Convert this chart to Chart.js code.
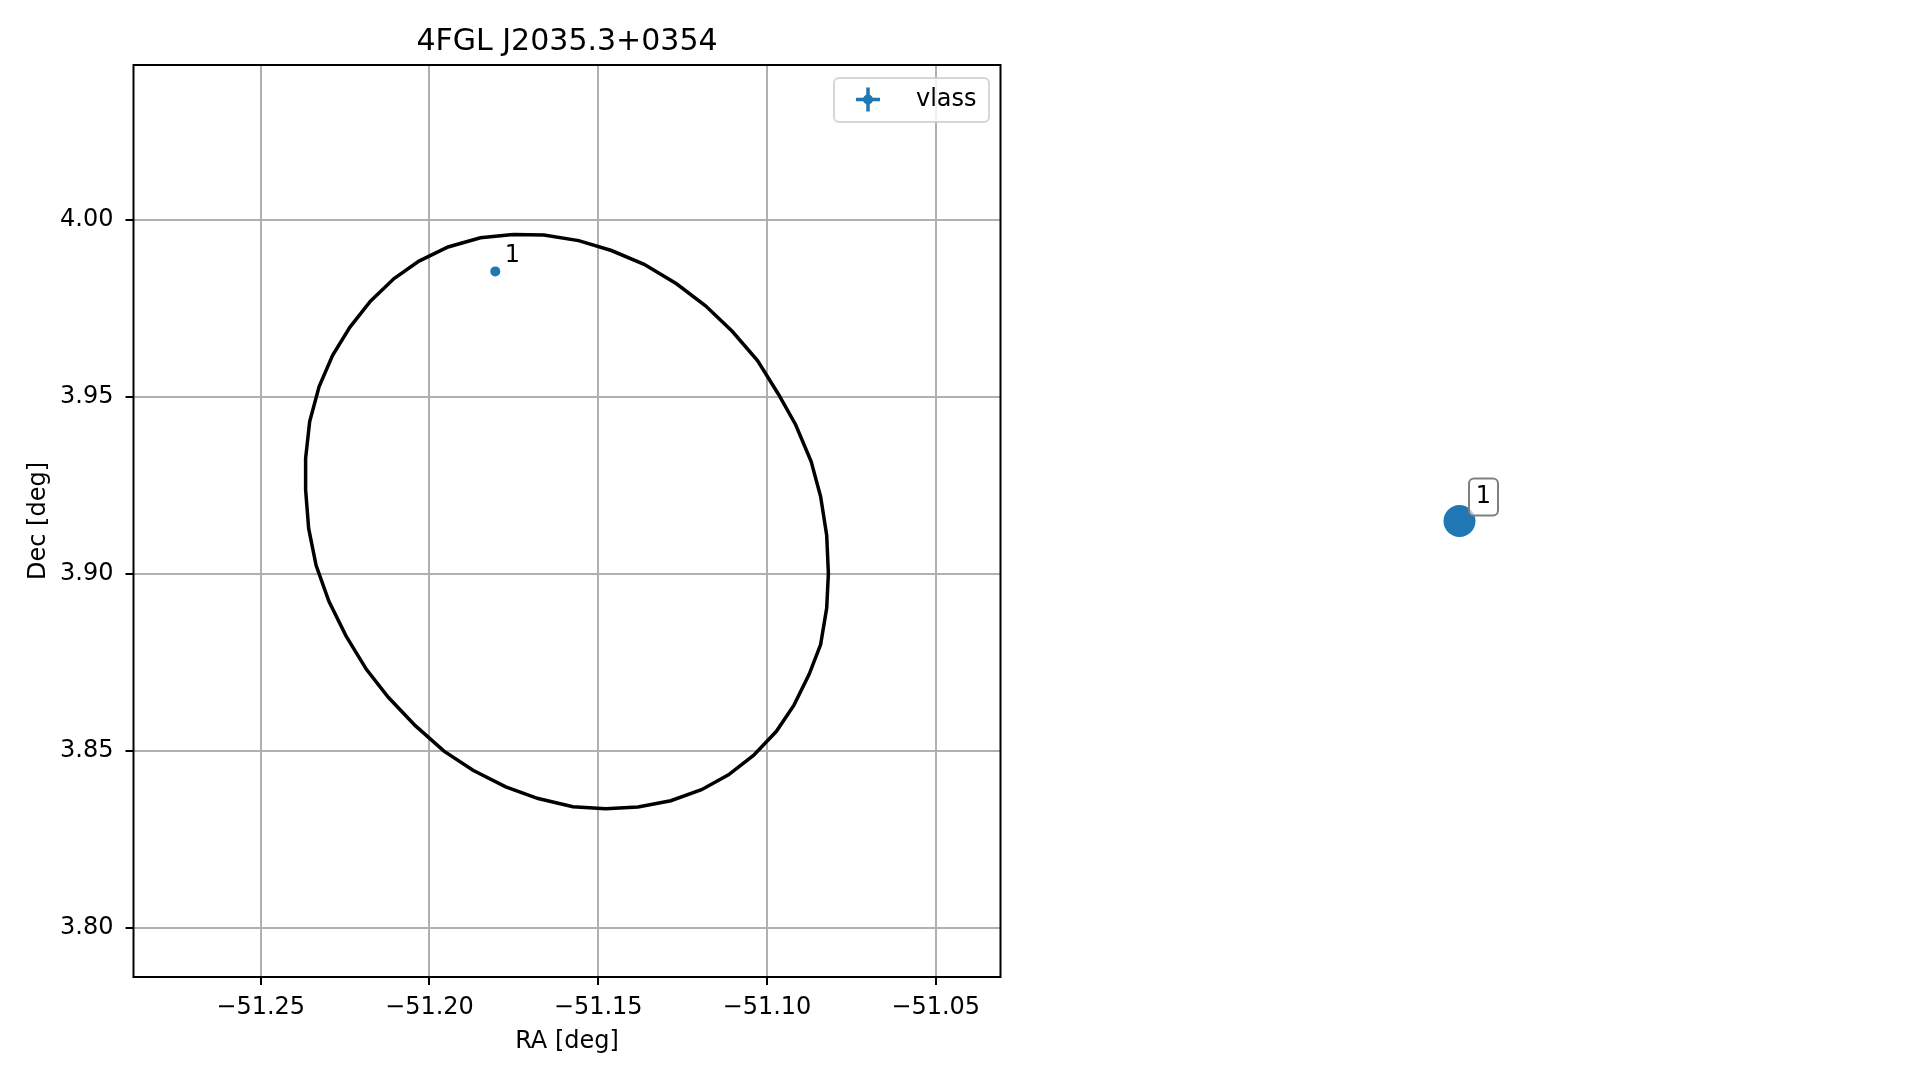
<!DOCTYPE html>
<html><head><meta charset="utf-8">
<script src="https://cdn.jsdelivr.net/npm/chart.js@4.4.1/dist/chart.umd.min.js"></script>
<style>
html,body{margin:0;padding:0;background:#fff;width:1919px;height:1080px;overflow:hidden}
#c1{position:absolute;left:0;top:0}
#c2{position:absolute;left:1020px;top:0}
</style></head><body>
<canvas id="c1" width="1020" height="1080"></canvas>
<canvas id="c2" width="899" height="1080"></canvas>
<script>
// ---- data ----
const chartTitle = '4FGL J2035.3+0354';
const xAxisLabel = 'RA [deg]';
const yAxisLabel = 'Dec [deg]';
const xTickValues = [-51.25, -51.20, -51.15, -51.10, -51.05];
const yTickValues = [3.80, 3.85, 3.90, 3.95, 4.00];
const xRange = [-51.2877, -51.0308];
const yRange = [3.7862, 4.0438];
const ellipseRA = [-51.1752,-51.1661,-51.1558,-51.1461,-51.1364,-51.1268,-51.1182,-51.1103,-51.1028,-51.0966,
  -51.0915,-51.0869,-51.0841,-51.0823,-51.0818,-51.0823,-51.0841,-51.0875,-51.0920,-51.0972,
  -51.1040,-51.1114,-51.1194,-51.1285,-51.1382,-51.1478,-51.1575,-51.1678,-51.1774,-51.1871,
  -51.1957,-51.2042,-51.2122,-51.2187,-51.2247,-51.2298,-51.2336,-51.2358,-51.2367,-51.2367,
  -51.2355,-51.2327,-51.2287,-51.2236,-51.2175,-51.2105,-51.2031,-51.1945,-51.1849,-51.1752];
const ellipseDec = [3.9959,3.9958,3.9942,3.9914,3.9875,3.9820,3.9758,3.9686,3.9603,3.9508,
  3.9422,3.9318,3.9219,3.9110,3.9002,3.8904,3.8801,3.8717,3.8630,3.8556,
  3.8488,3.8433,3.8391,3.8360,3.8342,3.8337,3.8343,3.8366,3.8399,3.8446,
  3.8500,3.8572,3.8652,3.8731,3.8825,3.8923,3.9025,3.9129,3.9238,3.9327,
  3.9431,3.9530,3.9618,3.9697,3.9771,3.9835,3.9884,3.9924,3.9950,3.9959];
const seriesName = 'vlass';
const sourceLabels = ['1'];
const sourceRA = [-51.1805];
const sourceDec = [3.9855];
const panelX = [0];
const panelY = [0];
const panelLabels = ['1'];

// ---- styles ----
const FONT = "'DejaVu Sans', sans-serif";
const BLUE = '#1f77b4';

const fmt = v => (v < 0 ? '\u2212' : '') + Math.abs(v).toFixed(2);

const decorPlugin = {
  id: 'decor',
  afterDatasetsDraw(chart) {
    const ctx = chart.ctx;
    const meta = chart.getDatasetMeta(1);
    ctx.save();
    ctx.fillStyle = '#000';
    ctx.font = '24px ' + FONT;
    ctx.textAlign = 'center';
    ctx.textBaseline = 'middle';
    meta.data.forEach((el, i) => {
      ctx.fillText(sourceLabels[i], el.x + 17, el.y - 16);
    });
    ctx.restore();
  },
  afterDraw(chart) {
    const ctx = chart.ctx;
    const a = chart.chartArea;
    ctx.save();
    // spines
    ctx.strokeStyle = '#000';
    ctx.lineWidth = 2;
    ctx.strokeRect(a.left, a.top, a.right - a.left, a.bottom - a.top);
    // title
    ctx.fillStyle = '#000';
    ctx.font = '30px ' + FONT;
    ctx.textAlign = 'center';
    ctx.textBaseline = 'middle';
    ctx.fillText(chartTitle, (a.left + a.right) / 2, 42.5);
    // legend
    const bx = a.right - 166.5, by = a.top + 13, bw = 155, bh = 44;
    ctx.beginPath();
    ctx.roundRect(bx, by, bw, bh, 5);
    ctx.fillStyle = 'rgba(255,255,255,0.8)';
    ctx.fill();
    ctx.strokeStyle = 'rgba(204,204,204,0.8)';
    ctx.lineWidth = 2;
    ctx.stroke();
    const hx = bx + 34, hy = by + 21.5;
    ctx.strokeStyle = BLUE;
    ctx.lineWidth = 3.5;
    ctx.beginPath();
    ctx.moveTo(hx - 12, hy); ctx.lineTo(hx + 12, hy);
    ctx.moveTo(hx, hy - 12); ctx.lineTo(hx, hy + 12);
    ctx.stroke();
    ctx.fillStyle = BLUE;
    ctx.beginPath(); ctx.arc(hx, hy, 5, 0, Math.PI * 2); ctx.fill();
    ctx.fillStyle = '#000';
    ctx.font = '24px ' + FONT;
    ctx.textAlign = 'left';
    ctx.fillText(seriesName, bx + 82, hy);
    ctx.restore();
  }
};

new Chart(document.getElementById('c1'), {
  type: 'scatter',
  data: {
    datasets: [
      {
        label: 'ellipse',
        data: ellipseRA.map((x, i) => ({ x, y: ellipseDec[i] })),
        showLine: true,
        borderColor: '#000',
        borderWidth: 3.5,
        pointRadius: 0,
        tension: 0,
        fill: false
      },
      {
        label: seriesName,
        data: sourceRA.map((x, i) => ({ x, y: sourceDec[i] })),
        backgroundColor: BLUE,
        borderColor: BLUE,
        pointRadius: 5,
        pointBorderWidth: 0
      }
    ]
  },
  options: {
    responsive: false,
    animation: false,
    devicePixelRatio: 1,
    layout: { padding: { top: 65, right: 19.5, bottom: 0, left: 0 } },
    plugins: { legend: { display: false }, tooltip: { enabled: false }, title: { display: false } },
    scales: {
      x: {
        type: 'linear',
        min: xRange[0], max: xRange[1],
        afterBuildTicks: s => { s.ticks = xTickValues.map(v => ({ value: v })); },
        afterFit: s => { s.height = 103; },
        ticks: { callback: v => fmt(v), color: '#000', font: { family: FONT, size: 24 }, padding: 8, maxRotation: 0, autoSkip: false },
        grid: { color: '#b0b0b0', lineWidth: 2, drawTicks: true, tickLength: 8, tickColor: '#000', tickWidth: 2 },
        border: { display: false },
        title: { display: true, text: xAxisLabel, color: '#000', font: { family: FONT, size: 24 }, padding: 23.5 }
      },
      y: {
        type: 'linear',
        min: yRange[0], max: yRange[1],
        afterBuildTicks: s => { s.ticks = yTickValues.map(v => ({ value: v })); },
        afterFit: s => { s.width = 133.5; },
        ticks: { callback: v => fmt(v), color: '#000', font: { family: FONT, size: 24 }, padding: 12, autoSkip: false },
        grid: { color: '#b0b0b0', lineWidth: 2, drawTicks: true, tickLength: 8, tickColor: '#000', tickWidth: 2 },
        border: { display: false },
        title: { display: true, text: yAxisLabel, color: '#000', font: { family: FONT, size: 24 }, padding: 24.5 }
      }
    }
  },
  plugins: [decorPlugin]
});

const panelPlugin = {
  id: 'panelLabels',
  afterDatasetsDraw(chart) {
    const ctx = chart.ctx;
    const meta = chart.getDatasetMeta(0);
    ctx.save();
    meta.data.forEach((el, i) => {
      const cx = el.x + 24, cy = el.y - 24;
      ctx.beginPath();
      ctx.roundRect(cx - 14.5, cy - 18.5, 29, 37, 5);
      ctx.fillStyle = 'rgba(255,255,255,0.7)';
      ctx.fill();
      ctx.strokeStyle = '#808080';
      ctx.lineWidth = 2;
      ctx.stroke();
      ctx.fillStyle = '#000';
      ctx.font = '24px ' + FONT;
      ctx.textAlign = 'center';
      ctx.textBaseline = 'middle';
      ctx.fillText(panelLabels[i], cx, cy);
    });
    ctx.restore();
  }
};

new Chart(document.getElementById('c2'), {
  type: 'scatter',
  data: {
    datasets: [{
      label: seriesName,
      data: panelX.map((x, i) => ({ x, y: panelY[i] })),
      backgroundColor: BLUE,
      borderColor: BLUE,
      pointRadius: 16,
      pointBorderWidth: 0
    }]
  },
  options: {
    responsive: false,
    animation: false,
    devicePixelRatio: 1,
    layout: { padding: { top: 65, right: 36, bottom: 103, left: 7 } },
    plugins: { legend: { display: false }, tooltip: { enabled: false } },
    scales: {
      x: { type: 'linear', min: -1, max: 1, display: false },
      y: { type: 'linear', min: -1, max: 1, display: false }
    }
  },
  plugins: [panelPlugin]
});
</script>
</body></html>
